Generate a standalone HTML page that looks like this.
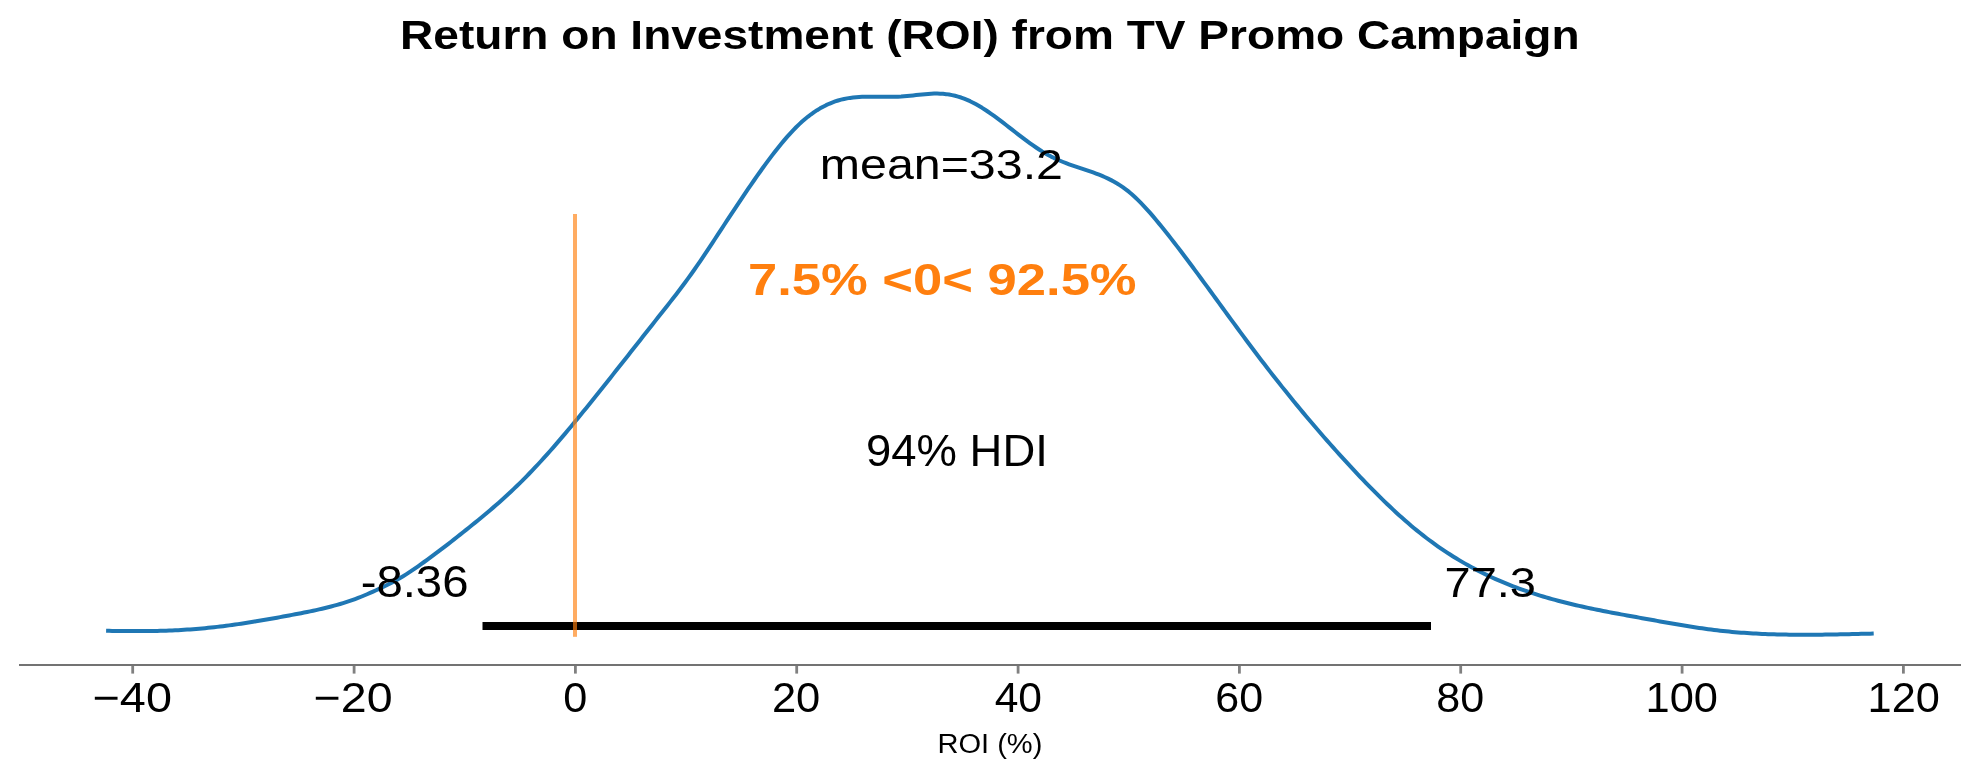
<!DOCTYPE html>
<html><head><meta charset="utf-8"><style>
html,body{margin:0;padding:0;background:#fff;}
svg{display:block;will-change:transform;}
text{font-family:"Liberation Sans", sans-serif;}
</style></head><body>
<svg width="1979" height="780" viewBox="0 0 1979 780">
<rect width="1979" height="780" fill="#fff"/>
<text x="400.10" y="49.35" font-size="40.59" font-weight="bold" textLength="1179.53" lengthAdjust="spacingAndGlyphs" fill="#000">Return on Investment (ROI) from TV Promo Campaign</text>
<path d="M106.1 630.78 L109.1 630.85 L112.1 630.90 L115.1 630.90 L118.1 630.90 L121.1 630.90 L124.1 630.90 L127.1 630.90 L130.1 630.90 L133.1 630.90 L136.1 630.90 L139.1 630.90 L142.1 630.90 L145.1 630.90 L148.1 630.90 L151.1 630.90 L154.1 630.90 L157.1 630.90 L160.1 630.86 L163.1 630.77 L166.1 630.67 L169.1 630.55 L172.1 630.43 L175.1 630.29 L178.1 630.14 L181.1 629.97 L184.1 629.79 L187.1 629.60 L190.1 629.39 L193.1 629.17 L196.1 628.94 L199.1 628.69 L202.1 628.43 L205.1 628.15 L208.1 627.86 L211.1 627.55 L214.1 627.22 L217.1 626.88 L220.1 626.53 L223.1 626.16 L226.1 625.78 L229.1 625.38 L232.1 624.97 L235.1 624.55 L238.1 624.12 L241.1 623.68 L244.1 623.22 L247.1 622.76 L250.1 622.29 L253.1 621.80 L256.1 621.31 L259.1 620.81 L262.1 620.30 L265.1 619.78 L268.1 619.26 L271.1 618.73 L274.1 618.20 L277.1 617.66 L280.1 617.11 L283.1 616.56 L286.1 616.01 L289.1 615.45 L292.1 614.89 L295.1 614.32 L298.1 613.75 L301.1 613.17 L304.1 612.58 L307.1 611.98 L310.1 611.36 L313.1 610.73 L316.1 610.08 L319.1 609.41 L322.1 608.72 L325.1 608.00 L328.1 607.26 L331.1 606.48 L334.1 605.68 L337.1 604.84 L340.1 603.97 L343.1 603.07 L346.1 602.12 L349.1 601.13 L352.1 600.10 L355.1 599.03 L358.1 597.91 L361.1 596.74 L364.1 595.52 L367.1 594.26 L370.1 592.96 L373.1 591.63 L376.1 590.27 L379.1 588.88 L382.1 587.47 L385.1 586.01 L388.1 584.52 L391.1 582.97 L394.1 581.38 L397.1 579.72 L400.1 578.00 L403.1 576.21 L406.1 574.35 L409.1 572.41 L412.1 570.42 L415.1 568.36 L418.1 566.27 L421.1 564.15 L424.1 562.00 L427.1 559.83 L430.1 557.64 L433.1 555.43 L436.1 553.19 L439.1 550.94 L442.1 548.67 L445.1 546.38 L448.1 544.07 L451.1 541.74 L454.1 539.40 L457.1 537.05 L460.1 534.68 L463.1 532.29 L466.1 529.90 L469.1 527.49 L472.1 525.06 L475.1 522.63 L478.1 520.18 L481.1 517.71 L484.1 515.22 L487.1 512.71 L490.1 510.17 L493.1 507.61 L496.1 505.01 L499.1 502.38 L502.1 499.72 L505.1 497.02 L508.1 494.28 L511.1 491.49 L514.1 488.66 L517.1 485.79 L520.1 482.86 L523.1 479.88 L526.1 476.85 L529.1 473.77 L532.1 470.64 L535.1 467.47 L538.1 464.25 L541.1 460.99 L544.1 457.69 L547.1 454.36 L550.1 450.98 L553.1 447.57 L556.1 444.12 L559.1 440.64 L562.1 437.13 L565.1 433.59 L568.1 430.03 L571.1 426.44 L574.1 422.82 L577.1 419.18 L580.1 415.52 L583.1 411.85 L586.1 408.15 L589.1 404.44 L592.1 400.72 L595.1 396.98 L598.1 393.23 L601.1 389.47 L604.1 385.71 L607.1 381.94 L610.1 378.16 L613.1 374.38 L616.1 370.59 L619.1 366.79 L622.1 363.00 L625.1 359.19 L628.1 355.39 L631.1 351.58 L634.1 347.78 L637.1 343.97 L640.1 340.16 L643.1 336.35 L646.1 332.54 L649.1 328.74 L652.1 324.93 L655.1 321.13 L658.1 317.33 L661.1 313.54 L664.1 309.75 L667.1 305.94 L670.1 302.13 L673.1 298.29 L676.1 294.41 L679.1 290.50 L682.1 286.53 L685.1 282.50 L688.1 278.41 L691.1 274.23 L694.1 269.98 L697.1 265.66 L700.1 261.28 L703.1 256.85 L706.1 252.36 L709.1 247.85 L712.1 243.30 L715.1 238.73 L718.1 234.15 L721.1 229.57 L724.1 225.00 L727.1 220.43 L730.1 215.87 L733.1 211.33 L736.1 206.80 L739.1 202.30 L742.1 197.82 L745.1 193.38 L748.1 188.96 L751.1 184.59 L754.1 180.25 L757.1 175.96 L760.1 171.72 L763.1 167.53 L766.1 163.40 L769.1 159.34 L772.1 155.36 L775.1 151.46 L778.1 147.66 L781.1 143.96 L784.1 140.37 L787.1 136.89 L790.1 133.55 L793.1 130.33 L796.1 127.27 L799.1 124.35 L802.1 121.59 L805.1 118.99 L808.1 116.56 L811.1 114.28 L814.1 112.15 L817.1 110.18 L820.1 108.36 L823.1 106.68 L826.1 105.16 L829.1 103.78 L832.1 102.54 L835.1 101.45 L838.1 100.49 L841.1 99.67 L844.1 98.97 L847.1 98.38 L850.1 97.90 L853.1 97.51 L856.1 97.21 L859.1 96.98 L862.1 96.82 L865.1 96.72 L868.1 96.67 L871.1 96.65 L874.1 96.66 L877.1 96.70 L880.1 96.74 L883.1 96.78 L886.1 96.81 L889.1 96.83 L892.1 96.82 L895.1 96.77 L898.1 96.67 L901.1 96.52 L904.1 96.30 L907.1 96.04 L910.1 95.74 L913.1 95.41 L916.1 95.08 L919.1 94.75 L922.1 94.44 L925.1 94.16 L928.1 93.92 L931.1 93.73 L934.1 93.62 L937.1 93.60 L940.1 93.67 L943.1 93.85 L946.1 94.14 L949.1 94.56 L952.1 95.11 L955.1 95.78 L958.1 96.59 L961.1 97.53 L964.1 98.61 L967.1 99.83 L970.1 101.19 L973.1 102.68 L976.1 104.29 L979.1 106.01 L982.1 107.83 L985.1 109.75 L988.1 111.75 L991.1 113.82 L994.1 115.96 L997.1 118.16 L1000.1 120.40 L1003.1 122.68 L1006.1 124.98 L1009.1 127.31 L1012.1 129.64 L1015.1 131.97 L1018.1 134.30 L1021.1 136.60 L1024.1 138.88 L1027.1 141.12 L1030.1 143.31 L1033.1 145.45 L1036.1 147.52 L1039.1 149.52 L1042.1 151.44 L1045.1 153.26 L1048.1 154.98 L1051.1 156.59 L1054.1 158.08 L1057.1 159.48 L1060.1 160.78 L1063.1 162.01 L1066.1 163.17 L1069.1 164.27 L1072.1 165.32 L1075.1 166.35 L1078.1 167.35 L1081.1 168.34 L1084.1 169.33 L1087.1 170.33 L1090.1 171.35 L1093.1 172.41 L1096.1 173.52 L1099.1 174.68 L1102.1 175.91 L1105.1 177.22 L1108.1 178.62 L1111.1 180.13 L1114.1 181.74 L1117.1 183.49 L1120.1 185.37 L1123.1 187.40 L1126.1 189.58 L1129.1 191.94 L1132.1 194.48 L1135.1 197.19 L1138.1 200.07 L1141.1 203.10 L1144.1 206.26 L1147.1 209.54 L1150.1 212.93 L1153.1 216.41 L1156.1 219.98 L1159.1 223.61 L1162.1 227.29 L1165.1 231.02 L1168.1 234.80 L1171.1 238.62 L1174.1 242.48 L1177.1 246.37 L1180.1 250.30 L1183.1 254.25 L1186.1 258.24 L1189.1 262.24 L1192.1 266.28 L1195.1 270.33 L1198.1 274.39 L1201.1 278.47 L1204.1 282.56 L1207.1 286.66 L1210.1 290.77 L1213.1 294.88 L1216.1 299.00 L1219.1 303.12 L1222.1 307.23 L1225.1 311.35 L1228.1 315.46 L1231.1 319.57 L1234.1 323.67 L1237.1 327.76 L1240.1 331.84 L1243.1 335.90 L1246.1 339.95 L1249.1 343.99 L1252.1 348.00 L1255.1 352.00 L1258.1 355.97 L1261.1 359.92 L1264.1 363.84 L1267.1 367.74 L1270.1 371.62 L1273.1 375.47 L1276.1 379.29 L1279.1 383.09 L1282.1 386.87 L1285.1 390.62 L1288.1 394.34 L1291.1 398.05 L1294.1 401.73 L1297.1 405.38 L1300.1 409.01 L1303.1 412.62 L1306.1 416.20 L1309.1 419.76 L1312.1 423.30 L1315.1 426.81 L1318.1 430.30 L1321.1 433.76 L1324.1 437.21 L1327.1 440.63 L1330.1 444.03 L1333.1 447.40 L1336.1 450.75 L1339.1 454.08 L1342.1 457.39 L1345.1 460.68 L1348.1 463.94 L1351.1 467.18 L1354.1 470.40 L1357.1 473.59 L1360.1 476.76 L1363.1 479.91 L1366.1 483.02 L1369.1 486.11 L1372.1 489.17 L1375.1 492.20 L1378.1 495.19 L1381.1 498.15 L1384.1 501.08 L1387.1 503.97 L1390.1 506.82 L1393.1 509.64 L1396.1 512.42 L1399.1 515.15 L1402.1 517.84 L1405.1 520.49 L1408.1 523.10 L1411.1 525.66 L1414.1 528.17 L1417.1 530.64 L1420.1 533.05 L1423.1 535.42 L1426.1 537.73 L1429.1 540.00 L1432.1 542.22 L1435.1 544.38 L1438.1 546.51 L1441.1 548.58 L1444.1 550.61 L1447.1 552.60 L1450.1 554.54 L1453.1 556.44 L1456.1 558.29 L1459.1 560.11 L1462.1 561.88 L1465.1 563.61 L1468.1 565.30 L1471.1 566.95 L1474.1 568.56 L1477.1 570.13 L1480.1 571.67 L1483.1 573.17 L1486.1 574.63 L1489.1 576.06 L1492.1 577.45 L1495.1 578.81 L1498.1 580.14 L1501.1 581.43 L1504.1 582.69 L1507.1 583.92 L1510.1 585.12 L1513.1 586.29 L1516.1 587.43 L1519.1 588.54 L1522.1 589.63 L1525.1 590.69 L1528.1 591.72 L1531.1 592.72 L1534.1 593.70 L1537.1 594.66 L1540.1 595.59 L1543.1 596.50 L1546.1 597.39 L1549.1 598.25 L1552.1 599.10 L1555.1 599.92 L1558.1 600.73 L1561.1 601.51 L1564.1 602.28 L1567.1 603.03 L1570.1 603.76 L1573.1 604.48 L1576.1 605.18 L1579.1 605.87 L1582.1 606.55 L1585.1 607.21 L1588.1 607.85 L1591.1 608.49 L1594.1 609.11 L1597.1 609.73 L1600.1 610.33 L1603.1 610.93 L1606.1 611.52 L1609.1 612.10 L1612.1 612.67 L1615.1 613.23 L1618.1 613.79 L1621.1 614.35 L1624.1 614.90 L1627.1 615.45 L1630.1 615.99 L1633.1 616.54 L1636.1 617.08 L1639.1 617.62 L1642.1 618.16 L1645.1 618.70 L1648.1 619.24 L1651.1 619.79 L1654.1 620.33 L1657.1 620.87 L1660.1 621.41 L1663.1 621.94 L1666.1 622.48 L1669.1 623.01 L1672.1 623.53 L1675.1 624.05 L1678.1 624.56 L1681.1 625.06 L1684.1 625.56 L1687.1 626.05 L1690.1 626.53 L1693.1 627.00 L1696.1 627.46 L1699.1 627.91 L1702.1 628.34 L1705.1 628.77 L1708.1 629.17 L1711.1 629.57 L1714.1 629.95 L1717.1 630.31 L1720.1 630.66 L1723.1 630.99 L1726.1 631.31 L1729.1 631.61 L1732.1 631.89 L1735.1 632.15 L1738.1 632.40 L1741.1 632.64 L1744.1 632.86 L1747.1 633.07 L1750.1 633.26 L1753.1 633.44 L1756.1 633.61 L1759.1 633.76 L1762.1 633.90 L1765.1 634.03 L1768.1 634.15 L1771.1 634.25 L1774.1 634.35 L1777.1 634.43 L1780.1 634.50 L1783.1 634.57 L1786.1 634.62 L1789.1 634.67 L1792.1 634.70 L1795.1 634.73 L1798.1 634.75 L1801.1 634.76 L1804.1 634.76 L1807.1 634.76 L1810.1 634.75 L1813.1 634.73 L1816.1 634.70 L1819.1 634.68 L1822.1 634.64 L1825.1 634.60 L1828.1 634.56 L1831.1 634.51 L1834.1 634.46 L1837.1 634.40 L1840.1 634.34 L1843.1 634.28 L1846.1 634.21 L1849.1 634.14 L1852.1 634.07 L1855.1 634.00 L1858.1 633.93 L1861.1 633.86 L1864.1 633.79 L1867.1 633.71 L1870.1 633.64 L1873.1 633.57 L1873.7 633.55" fill="none" stroke="#1f77b4" stroke-width="4" stroke-linejoin="round"/>
<rect x="482.5" y="622" width="948.5" height="8" fill="#000"/>
<rect x="573" y="214" width="4" height="422.8" fill="#ff7f0e" fill-opacity="0.65"/>
<text x="819.75" y="179.30" font-size="43.14" font-weight="normal" textLength="243.19" lengthAdjust="spacingAndGlyphs" fill="#000">mean=33.2</text>
<text x="866.10" y="465.85" font-size="43.72" font-weight="normal" textLength="181.76" lengthAdjust="spacingAndGlyphs" fill="#000">94% HDI</text>
<text x="360.65" y="596.70" font-size="43.72" font-weight="normal" textLength="107.87" lengthAdjust="spacingAndGlyphs" fill="#000">-8.36</text>
<text x="1444.50" y="596.80" font-size="43.00" font-weight="normal" textLength="91.47" lengthAdjust="spacingAndGlyphs" fill="#000">77.3</text>
<text x="747.90" y="295.20" font-size="45.00" font-weight="bold" textLength="388.74" lengthAdjust="spacingAndGlyphs" fill="#ff7f0e">7.5% &lt;0&lt; 92.5%</text>
<line x1="19" y1="664.9" x2="1961" y2="664.9" stroke="#737373" stroke-width="2"/>
<g stroke="#808080" stroke-width="2.8"><line x1="132.7" y1="665.9" x2="132.7" y2="673.6" /><line x1="354.1" y1="665.9" x2="354.1" y2="673.6" /><line x1="575.4" y1="665.9" x2="575.4" y2="673.6" /><line x1="796.7" y1="665.9" x2="796.7" y2="673.6" /><line x1="1018.1" y1="665.9" x2="1018.1" y2="673.6" /><line x1="1239.4" y1="665.9" x2="1239.4" y2="673.6" /><line x1="1460.7" y1="665.9" x2="1460.7" y2="673.6" /><line x1="1682.1" y1="665.9" x2="1682.1" y2="673.6" /><line x1="1903.4" y1="665.9" x2="1903.4" y2="673.6" /></g>
<text x="92.55" y="711.85" font-size="42.00" font-weight="normal" textLength="79.37" lengthAdjust="spacingAndGlyphs" fill="#000">−40</text><text x="313.60" y="711.85" font-size="42.00" font-weight="normal" textLength="78.96" lengthAdjust="spacingAndGlyphs" fill="#000">−20</text><text x="563.30" y="711.85" font-size="42.29" font-weight="normal" textLength="24.04" lengthAdjust="spacingAndGlyphs" fill="#000">0</text><text x="771.90" y="711.85" font-size="42.29" font-weight="normal" textLength="48.43" lengthAdjust="spacingAndGlyphs" fill="#000">20</text><text x="994.65" y="711.85" font-size="42.00" font-weight="normal" textLength="47.35" lengthAdjust="spacingAndGlyphs" fill="#000">40</text><text x="1215.30" y="711.85" font-size="42.00" font-weight="normal" textLength="47.83" lengthAdjust="spacingAndGlyphs" fill="#000">60</text><text x="1436.20" y="711.85" font-size="42.00" font-weight="normal" textLength="47.92" lengthAdjust="spacingAndGlyphs" fill="#000">80</text><text x="1645.60" y="711.85" font-size="42.00" font-weight="normal" textLength="72.40" lengthAdjust="spacingAndGlyphs" fill="#000">100</text><text x="1867.55" y="711.65" font-size="41.86" font-weight="normal" textLength="72.31" lengthAdjust="spacingAndGlyphs" fill="#000">120</text>
<text x="937.40" y="752.95" font-size="27.42" font-weight="normal" textLength="104.97" lengthAdjust="spacingAndGlyphs" fill="#000">ROI (%)</text>
</svg>
</body></html>
